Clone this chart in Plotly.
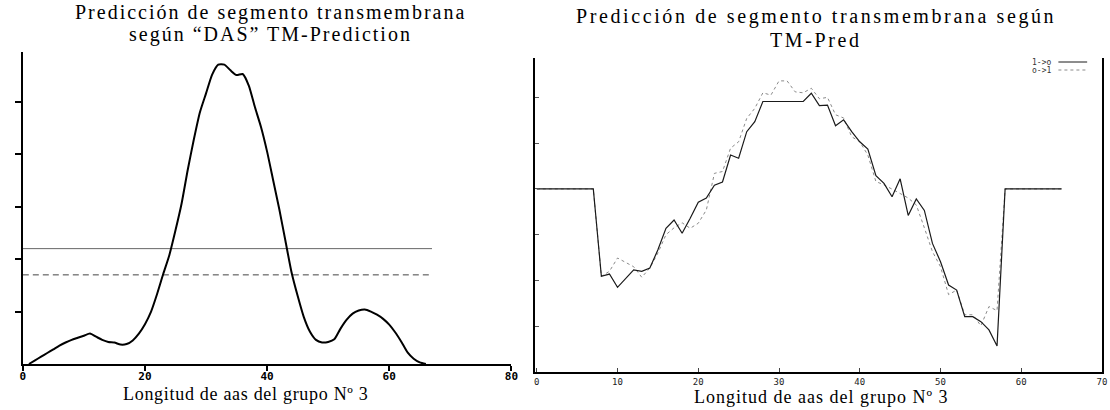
import plotly.graph_objects as go

# ---------------- data ----------------
# Left panel: DAS TM-prediction profile
das_x = list(range(1, 67))
das_y = [0.0, 0.07, 0.14, 0.21, 0.28, 0.35, 0.41, 0.46, 0.50, 0.54,
         0.58, 0.52, 0.46, 0.42, 0.41, 0.37, 0.38, 0.45, 0.58, 0.76,
         1.00, 1.34, 1.72, 2.08, 2.55, 3.06, 3.70, 4.28, 4.80, 5.16,
         5.52, 5.71, 5.71, 5.60, 5.51, 5.53, 5.31, 4.90, 4.52, 4.05,
         3.50, 2.95, 2.35, 1.75, 1.30, 0.90, 0.62, 0.46, 0.41, 0.42,
         0.47, 0.67, 0.84, 0.96, 1.02, 1.04, 1.00, 0.94, 0.86, 0.75,
         0.60, 0.42, 0.22, 0.10, 0.03, 0.0]
das_cutoff_strict = 2.2
das_cutoff_loose = 1.7
cutoff_x = [0, 67]

# Right panel: TM-Pred profiles
tm_x = list(range(0, 66))
tm_io = [0, 0, 0, 0, 0, 0, 0, 0,
         -1.91, -1.86, -2.15, -1.95, -1.77, -1.80, -1.73, -1.33, -0.86, -0.68,
         -0.97, -0.64, -0.29, -0.20, 0.08, 0.15, 0.74, 0.67, 1.25, 1.47,
         1.91, 1.91, 1.91, 1.91, 1.91, 1.91, 2.09, 1.82, 1.83, 1.38,
         1.51, 1.25, 1.03, 0.87, 0.29, 0.12, -0.17, 0.22, -0.58, -0.22,
         -0.47, -1.19, -1.59, -2.10, -2.21, -2.79, -2.79, -2.90, -3.08, -3.43,
         0, 0, 0, 0, 0, 0, 0, 0]
tm_oi = [0, 0, 0, 0, 0, 0, 0, 0,
         -1.91, -1.80, -1.51, -1.60, -1.70, -1.93, -1.73, -1.40, -1.00, -0.85,
         -0.74, -0.86, -0.75, -0.46, 0.34, 0.38, 0.89, 1.03, 1.54, 1.76,
         2.10, 2.05, 2.36, 2.36, 2.12, 2.10, 2.20, 1.97, 2.00, 1.62,
         1.55, 1.14, 1.03, 0.74, 0.16, 0.09, 0.00, -0.10, -0.20, -0.35,
         -0.85, -1.37, -1.70, -2.31, -2.21, -2.75, -2.75, -2.99, -2.57, -2.66,
         0, 0, 0, 0, 0, 0, 0, 0]

left_xticks = [0, 20, 40, 60, 80]
left_yticks = [1, 2, 3, 4, 5]
right_xticks = [0, 10, 20, 30, 40, 50, 60, 70]
right_yticks = [-3, -2, -1, 0, 1, 2]

left_title = ["Predicción de segmento transmembrana", "según “DAS” TM-Prediction"]
right_title = ["Predicción de segmento transmembrana según", "TM-Pred"]
axis_label = "Longitud de aas del grupo Nº 3"
legend_names = ["1->o", "o->1"]

# ---------------- figure ----------------
W, H = 1110, 410
def px(x):
    return x / W
def py(y):
    return 1 - y / H

fig = go.Figure()

fig.add_trace(go.Scatter(x=cutoff_x, y=[das_cutoff_strict] * 2, mode="lines",
                         line=dict(color="#666666", width=1), xaxis="x", yaxis="y",
                         showlegend=False, hoverinfo="skip"))
fig.add_trace(go.Scatter(x=cutoff_x, y=[das_cutoff_loose] * 2, mode="lines",
                         line=dict(color="#444444", width=1, dash="6px,4px"),
                         xaxis="x", yaxis="y", showlegend=False, hoverinfo="skip"))
fig.add_trace(go.Scatter(x=das_x, y=das_y, mode="lines",
                         line=dict(color="black", width=2, shape="spline", smoothing=0.6),
                         xaxis="x", yaxis="y", showlegend=False))

fig.add_trace(go.Scatter(x=tm_x, y=tm_oi, mode="lines", name=legend_names[1],
                         line=dict(color="#8a8a8a", width=1, dash="dot"),
                         xaxis="x2", yaxis="y2", showlegend=False))
fig.add_trace(go.Scatter(x=tm_x, y=tm_io, mode="lines", name=legend_names[0],
                         line=dict(color="#1a1a1a", width=1.2),
                         xaxis="x2", yaxis="y2", showlegend=False))

mono = "DejaVu Sans Mono"
serif = "Liberation Serif"

fig.update_layout(
    width=W, height=H, margin=dict(l=0, r=0, t=0, b=0),
    paper_bgcolor="white", plot_bgcolor="white", showlegend=False,
    xaxis=dict(domain=[px(20), px(513)], range=[0, 80], anchor="y",
               showline=True, linecolor="black", linewidth=2,
               ticks="outside", ticklen=5, tickwidth=1.5, tickcolor="black",
               ticklabelstandoff=-4,
               tickvals=left_xticks, tickfont=dict(family=mono, size=11, color="black", weight="bold"),
               showgrid=False, zeroline=False),
    yaxis=dict(domain=[py(364), py(52)], range=[0, 5.95], anchor="x",
               showline=True, linecolor="black", linewidth=2,
               ticks="outside", ticklen=6, tickwidth=1.5, tickcolor="black",
               tickvals=left_yticks, showticklabels=False,
               showgrid=False, zeroline=False),
    xaxis2=dict(domain=[px(537), px(1109)], range=[-0.2, 70.0], anchor="y2",
                showline=True, linecolor="black", linewidth=1.5,
                ticks="inside", ticklen=4, tickwidth=1, tickcolor="#444444",
                tickvals=right_xticks, tickfont=dict(family=mono, size=9, color="#222222"),
                showgrid=False, zeroline=False),
    yaxis2=dict(domain=[py(372), py(58)], range=[-4, 2.86], anchor="x2",
                showline=True, mirror=True, linecolor="black", linewidth=1.5,
                ticks="inside", ticklen=4, tickwidth=1, tickcolor="#555555",
                tickvals=right_yticks, showticklabels=False,
                showgrid=False, zeroline=False),
)

def add_text(text, x, y, size, spacing=0.0, family=serif, color="black", xanchor="center"):
    if spacing:
        text = '<span style="letter-spacing:%.1fpx">%s</span>' % (spacing, text)
    fig.add_annotation(text=text, x=px(x), y=py(y), xref="paper", yref="paper",
                       xanchor=xanchor, yanchor="middle", showarrow=False,
                       font=dict(family=family, size=size, color=color))

add_text(left_title[0], 270, 12, 20, 2.0)
add_text(left_title[1], 270, 35, 20, 2.0)
add_text(right_title[0], 820, 16, 20, 2.6)
add_text(right_title[1], 820, 40, 20, 2.6)
add_text(axis_label, 245, 394, 18, 0.7)
add_text(axis_label, 826, 397, 18, 1.0)

# legend (text left, line sample right)
for i, (name, dash, col) in enumerate(zip(legend_names, ["solid", "dot"], ["#1a1a1a", "#8a8a8a"])):
    yy = 62 + 8 * i
    add_text(name, 1060, yy, 8, family=mono, color="#333333", xanchor="right")
    fig.add_shape(type="line", xref="paper", yref="paper",
                  x0=px(1065), x1=px(1094), y0=py(yy), y1=py(yy),
                  line=dict(color=col, width=1, dash=dash))

fig.write_html("out.html")
